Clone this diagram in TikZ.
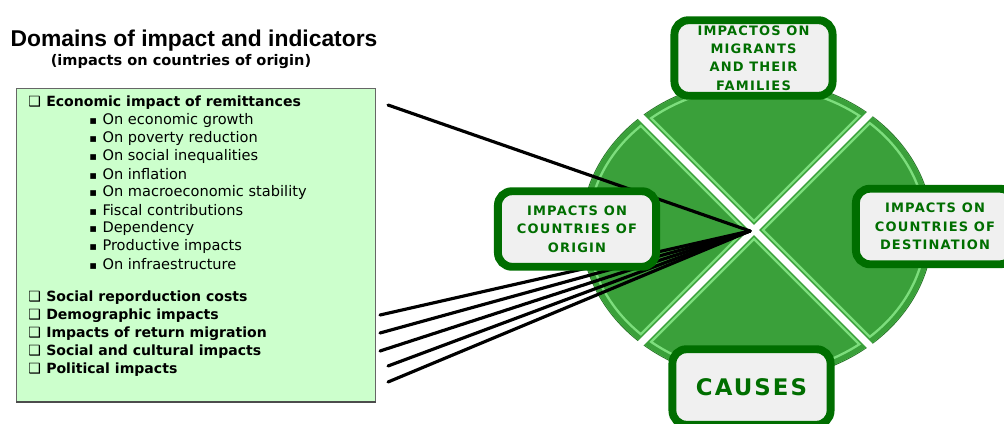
\documentclass[tikz,border=0pt]{standalone}
\usepackage{fontspec}
\setmainfont{DejaVu Sans}
\newfontfamily\titlefont{Liberation Sans}
\newfontfamily\boxfont[LetterSpace=9]{DejaVu Sans}
\newfontfamily\glyphfont{DejaVu Sans}
\newcommand\sqbox{\makebox[10.2pt][l]{\glyphfont\mdseries ❑}}
\newcommand\bul{\makebox[7.5pt][l]{\glyphfont\fontsize{6.5}{7}\selectfont ▪}}
\definecolor{listfill}{RGB}{204,255,204}
\definecolor{piecegreen}{RGB}{58,160,58}
\definecolor{bevelgreen}{RGB}{125,222,125}
\definecolor{rimgreen}{RGB}{40,115,40}
\definecolor{boxgreen}{RGB}{0,110,0}
\definecolor{boxgray}{RGB}{240,240,240}
\begin{document}
\begin{tikzpicture}[x=0.02cm, y=-0.02cm,
    sector/.style={draw=boxgreen, line width=4.5pt, fill=boxgray, rounded corners=8pt, minimum width=90pt, minimum height=43pt, inner sep=0pt, align=center, text=boxgreen, font=\boxfont\bfseries\fontsize{7.4}{10.5}\selectfont},
    mainitem/.style={anchor=west, inner sep=0pt, font=\bfseries\fontsize{8}{9}\selectfont},
    subitem/.style={anchor=west, inner sep=0pt, font=\fontsize{8.3}{9}\selectfont},
    link/.style={line width=1.8pt, line cap=round}]
    \useasboundingbox (0,0) rectangle (1004,423);
    \clip (0,0) rectangle (1004,423);

    % heading
    \node[inner sep=0pt, font=\titlefont\bfseries\fontsize{13}{15}\selectfont] (title) at (194,41) {Domains of impact and indicators};
    \node[inner sep=0pt, font=\bfseries\fontsize{8.3}{10}\selectfont] (subtitle) at (181,62) {(impacts on countries of origin)};

    % list of domains
    \node (listbox) [draw=black!60, fill=listfill, line width=0.6pt, minimum width=204pt, minimum height=178pt, inner sep=0pt] at (196,245) {};
    \draw[black!70, line width=1.4pt] (listbox.south west) -- (listbox.south east);
    \node[mainitem] (remittances) at (28,103) {\sqbox Economic impact of remittances};
    \foreach \txt [count=\i] in {On economic growth, On poverty reduction, On social inequalities, On inflation, On macroeconomic stability, Fiscal contributions, Dependency, Productive impacts, On infraestructure}
        \node[subitem] (sub\i) at (89,{102+18*\i}) {\bul\txt};
    \foreach \txt/\yy [count=\i] in {Social reporduction costs/298, Demographic impacts/316, Impacts of return migration/334, Social and cultural impacts/352, Political impacts/370}
        \node[mainitem] (domain\i) at (28,\yy) {\sqbox\txt};

    % wheel
    \coordinate (mid) at (757,230);
    \coordinate (cross) at (754,230);
    \coordinate (hub) at (750,231);
    \fill[rimgreen] (mid) ellipse [x radius=176, y radius=151];
    \foreach \a in {0,90,180,270} {
        \begin{scope}
            \clip (mid) ellipse [x radius=175, y radius=150];
            \clip (cross) -- +(\a-45:400) -- +(\a+45:400) -- cycle;
            \fill[piecegreen] (mid) ellipse [x radius=175, y radius=150];
            \draw[bevelgreen, line width=8.5pt] (mid) ellipse [x radius=175, y radius=150];
            \draw[bevelgreen, line width=8.5pt] (cross) -- +(\a-45:400) -- +(\a+45:400) -- cycle;
            \draw[piecegreen, line width=5.7pt] (mid) ellipse [x radius=175, y radius=150];
            \draw[piecegreen, line width=5.7pt] (cross) -- +(\a-45:400) -- +(\a+45:400) -- cycle;
        \end{scope}
    }
    \draw[white, line width=4pt] (cross) +(-200,-200) -- +(200,200);
    \draw[white, line width=4pt] (cross) +(-200,200) -- +(200,-200);

    % links to the centre
    \coordinate (tail0) at (388,105);
    \coordinate (tail1) at (380,315);
    \coordinate (tail2) at (380,333);
    \coordinate (tail3) at (380,351);
    \coordinate (tail4) at (388,366);
    \coordinate (tail5) at (388,382);
    \foreach \i in {0,...,5}
        \draw[link] (tail\i) -- (hub);

    % sectors
    \node[sector] (migrants) at (753.5,58) {IMPACTOS ON\\MIGRANTS\\AND THEIR\\FAMILIES};
    \node[sector] (origin) at (577,229) {IMPACTS ON\\COUNTRIES OF\\ORIGIN};
    \node[sector] (destination) at (935,226.5) {IMPACTS ON\\COUNTRIES OF\\DESTINATION};
    \node[sector, font=\boxfont\bfseries\fontsize{13}{15}\selectfont] (causes) at (751.5,387) {CAUSES};
\end{tikzpicture}
\end{document}
